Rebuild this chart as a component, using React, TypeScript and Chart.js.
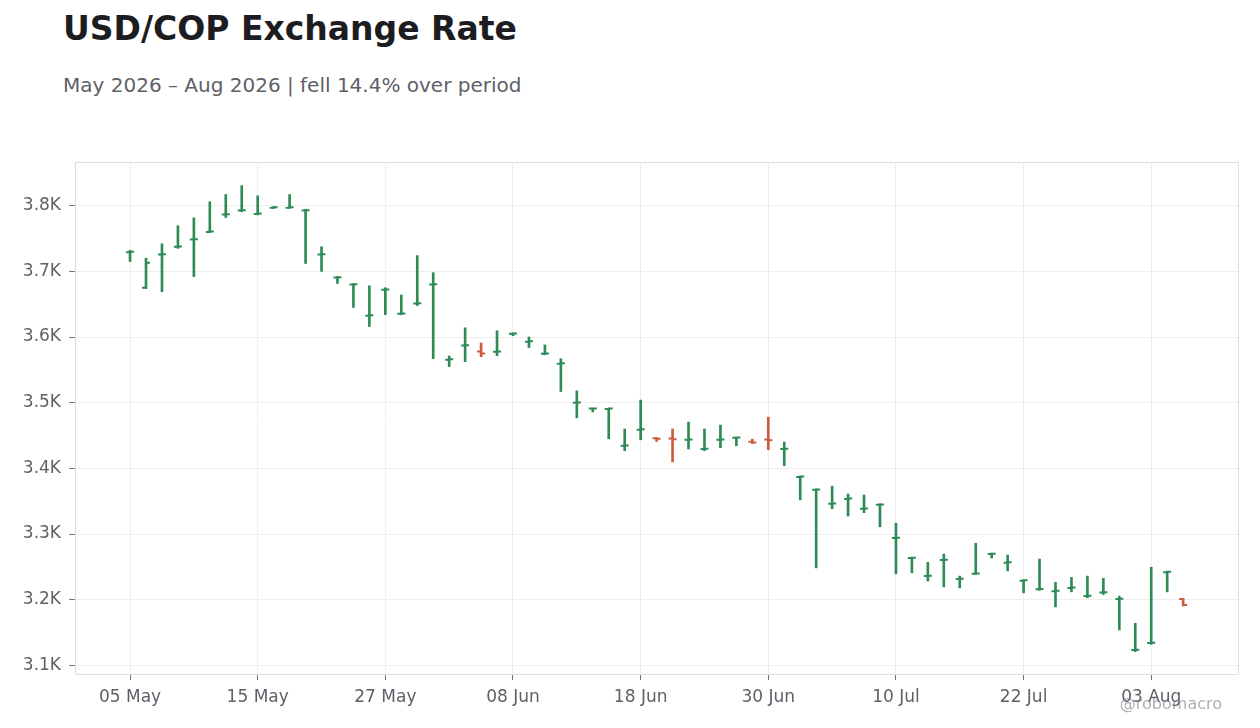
import React, { useEffect, useRef } from 'react';
import { Chart, registerables } from 'chart.js';

Chart.register(...registerables);

// business days, 05 May – 05 Aug 2026
const dates = [
  '05 May', '06 May', '07 May', '08 May', '11 May', '12 May', '13 May', '14 May', '15 May',
  '18 May', '19 May', '20 May', '21 May', '22 May', '25 May', '26 May', '27 May', '28 May', '29 May',
  '01 Jun', '02 Jun', '03 Jun', '04 Jun', '05 Jun', '08 Jun', '09 Jun', '10 Jun', '11 Jun', '12 Jun',
  '15 Jun', '16 Jun', '17 Jun', '18 Jun', '19 Jun', '22 Jun', '23 Jun', '24 Jun', '25 Jun', '26 Jun',
  '29 Jun', '30 Jun', '01 Jul', '02 Jul', '03 Jul', '06 Jul', '07 Jul', '08 Jul', '09 Jul', '10 Jul',
  '13 Jul', '14 Jul', '15 Jul', '16 Jul', '17 Jul', '20 Jul', '21 Jul', '22 Jul', '23 Jul', '24 Jul',
  '27 Jul', '28 Jul', '29 Jul', '30 Jul', '31 Jul', '03 Aug', '04 Aug', '05 Aug'
];

const tickLabels = ['05 May', '15 May', '27 May', '08 Jun', '18 Jun', '30 Jun', '10 Jul', '22 Jul', '03 Aug'];
const yTicks = [3100, 3200, 3300, 3400, 3500, 3600, 3700, 3800];

const openRate = [
  3729, 3675, 3725.5, 3737.5, 3748.5, 3760, 3786.5, 3792.5, 3787.5, 3797, 3797, 3792.5,
  3725.5, 3690.5, 3680, 3632.5, 3672, 3635.5, 3651, 3680, 3565.5, 3587, 3578, 3577.5,
  3605, 3593, 3574.5, 3559.5, 3500, 3491, 3490.5, 3434.5, 3459, 3446, 3445.5, 3443.5,
  3429.5, 3443.5, 3446.5, 3440.5, 3444, 3429.5, 3387, 3367.5, 3346, 3353.5, 3338.5, 3344.5,
  3294, 3263.5, 3236, 3260.5, 3231.5, 3239.5, 3269.5, 3256.5, 3229, 3216, 3213, 3218,
  3205.5, 3211, 3201, 3123.5, 3134, 3242, 3201
];
const highRate = [
  3732, 3720, 3742, 3769.5, 3781.5, 3806, 3817, 3830.5, 3815, 3798.5, 3817, 3794.5,
  3737.5, 3692, 3681, 3678, 3675, 3664, 3724, 3698, 3571, 3614, 3591, 3609.5,
  3606, 3600, 3588, 3567, 3518, 3491.5, 3491.5, 3460, 3504, 3446.5, 3460, 3470.5,
  3460, 3466, 3447, 3444.5, 3478, 3440, 3388, 3368.5, 3373, 3361, 3359.5, 3346,
  3316.5, 3264.5, 3257, 3269.5, 3236, 3286, 3271, 3268, 3230, 3262, 3226.5, 3234,
  3236, 3232.5, 3205.5, 3164, 3249.5, 3243, 3201.5
];
const lowRate = [
  3715, 3674, 3669, 3735, 3692, 3759.5, 3782, 3791, 3786, 3796, 3796.5, 3712,
  3700, 3681.5, 3645, 3616, 3634, 3634, 3648, 3567, 3555, 3562.5, 3570, 3571.5,
  3602, 3584, 3573, 3517, 3477, 3486, 3445, 3427, 3443.5, 3441, 3410, 3429.5,
  3427, 3431.5, 3434.5, 3438, 3428.5, 3404, 3352, 3248.5, 3338.5, 3327.5, 3332.5, 3311,
  3239.5, 3241, 3228.5, 3219.5, 3218, 3239, 3263.5, 3244, 3210.5, 3214.5, 3189, 3212,
  3203, 3208, 3154, 3121, 3132, 3212, 3190.5
];
const closeRate = [
  3730, 3713, 3726, 3738, 3749, 3760.5, 3787, 3793, 3788, 3797.5, 3797.5, 3793,
  3726, 3691, 3680.5, 3633, 3672.5, 3636, 3651.5, 3680.5, 3566, 3587.5, 3575, 3578,
  3605.5, 3593.5, 3575, 3560, 3500.5, 3491.2, 3491, 3435, 3459.5, 3445, 3444.5, 3444,
  3430, 3444, 3447, 3439.5, 3443, 3430, 3387.5, 3368, 3346.5, 3354, 3339, 3345,
  3294.5, 3264, 3236.5, 3261, 3232, 3240, 3270, 3257, 3229.5, 3216.5, 3213.5, 3218.5,
  3206, 3211.5, 3201.5, 3124, 3134.5, 3242.5, 3192
];

const GREEN = '#2e8b57';
const RED = '#cd5c3f';
const FONT = "'DejaVu Sans', sans-serif";

const barColor = (i: number) => (closeRate[i] >= openRate[i] ? GREEN : RED);

// open tick on the left, close tick on the right
const ohlcTicks = {
  id: 'ohlcTicks',
  afterDatasetsDraw(chart: any) {
    const { ctx, chartArea, scales } = chart;
    const xs = scales.x;
    const ys = scales.y;
    ctx.save();
    ctx.beginPath();
    ctx.rect(chartArea.left, chartArea.top, chartArea.right - chartArea.left, chartArea.bottom - chartArea.top);
    ctx.clip();
    ctx.lineWidth = 2;
    dates.forEach((_, i) => {
      const px = xs.getPixelForValue(i);
      const yo = ys.getPixelForValue(openRate[i]);
      const yc = ys.getPixelForValue(closeRate[i]);
      ctx.strokeStyle = barColor(i);
      ctx.beginPath();
      ctx.moveTo(px - 4, yo);
      ctx.lineTo(px + 1, yo);
      ctx.moveTo(px - 1, yc);
      ctx.lineTo(px + 4, yc);
      ctx.stroke();
    });
    ctx.restore();
  }
};

const frameBox = {
  id: 'frameBox',
  afterDraw(chart: any) {
    const { ctx, chartArea } = chart;
    ctx.save();
    ctx.strokeStyle = '#dedede';
    ctx.lineWidth = 1;
    ctx.strokeRect(chartArea.left + 0.5, chartArea.top + 0.5,
      chartArea.right - chartArea.left - 1, chartArea.bottom - chartArea.top - 1);
    ctx.restore();
  }
};

const App: React.FC = () => {
  const canvasRef = useRef<HTMLCanvasElement | null>(null);

  useEffect(() => {
    const ctx = canvasRef.current?.getContext('2d');
    if (!ctx) return;

    const chart = new Chart(ctx, {
      type: 'bar',
      data: {
        datasets: [
          {
            label: 'USD/COP',
            data: dates.map((_, i) => ({ x: i, y: [lowRate[i], highRate[i]] })) as any,
            backgroundColor: dates.map((_, i) => barColor(i)),
            barThickness: 2,
            borderWidth: 0
          }
        ]
      },
      options: {
        animation: false,
        responsive: true,
        maintainAspectRatio: false,
        layout: { padding: { left: 0, top: 162, right: 21, bottom: 0 } },
        plugins: {
          legend: { display: false },
          tooltip: { enabled: false }
        },
        scales: {
          x: {
            type: 'linear',
            offset: false,
            min: -3.45,
            max: 69.5,
            afterBuildTicks: (s: any) => {
              s.ticks = tickLabels.map(l => ({ value: dates.indexOf(l) }));
            },
            afterFit: (s: any) => { s.height = 53; },
            ticks: {
              callback: (v: any) => dates[v as number],
              font: { family: FONT, size: 17 },
              color: '#5f6068',
              padding: 7,
              maxRotation: 0,
              autoSkip: false
            },
            grid: { offset: false, color: '#eeeeee', tickLength: 5, tickColor: '#777777' },
            border: { display: false }
          },
          y: {
            min: 3085.4,
            max: 3866.5,
            afterBuildTicks: (s: any) => {
              s.ticks = yTicks.map(v => ({ value: v }));
            },
            afterFit: (s: any) => { s.width = 75; },
            ticks: {
              callback: (v: any) => (Number(v) / 1000).toFixed(1) + 'K',
              font: { family: FONT, size: 17 },
              color: '#5f6068',
              padding: 8
            },
            grid: { color: '#eeeeee', tickLength: 6, tickColor: '#777777' },
            border: { display: false }
          }
        }
      },
      plugins: [ohlcTicks, frameBox]
    });

    return () => {
      chart.destroy();
    };
  }, []);

  return (
    <div style={{ position: 'fixed', left: 0, top: 0, width: 1260, height: 728, background: '#fff', fontFamily: FONT }}>
      <div style={{ position: 'absolute', left: 63, top: 12, fontSize: 33, lineHeight: '33px', fontWeight: 'bold', color: '#1c1c21', whiteSpace: 'nowrap' }}>
        USD/COP Exchange Rate
      </div>
      <div style={{ position: 'absolute', left: 63, top: 75, fontSize: 20, lineHeight: '20px', color: '#5f6068', whiteSpace: 'nowrap' }}>
        May 2026 – Aug 2026 | fell 14.4% over period
      </div>
      <div style={{ position: 'absolute', left: 0, top: 0, width: 1260, height: 728 }}>
        <canvas ref={canvasRef} />
      </div>
      <div style={{ position: 'absolute', right: 38, top: 696, fontSize: 16, lineHeight: '16px', color: 'rgba(130,130,140,0.65)', whiteSpace: 'nowrap', pointerEvents: 'none' }}>
        @robomacro
      </div>
    </div>
  );
};

export default App;
